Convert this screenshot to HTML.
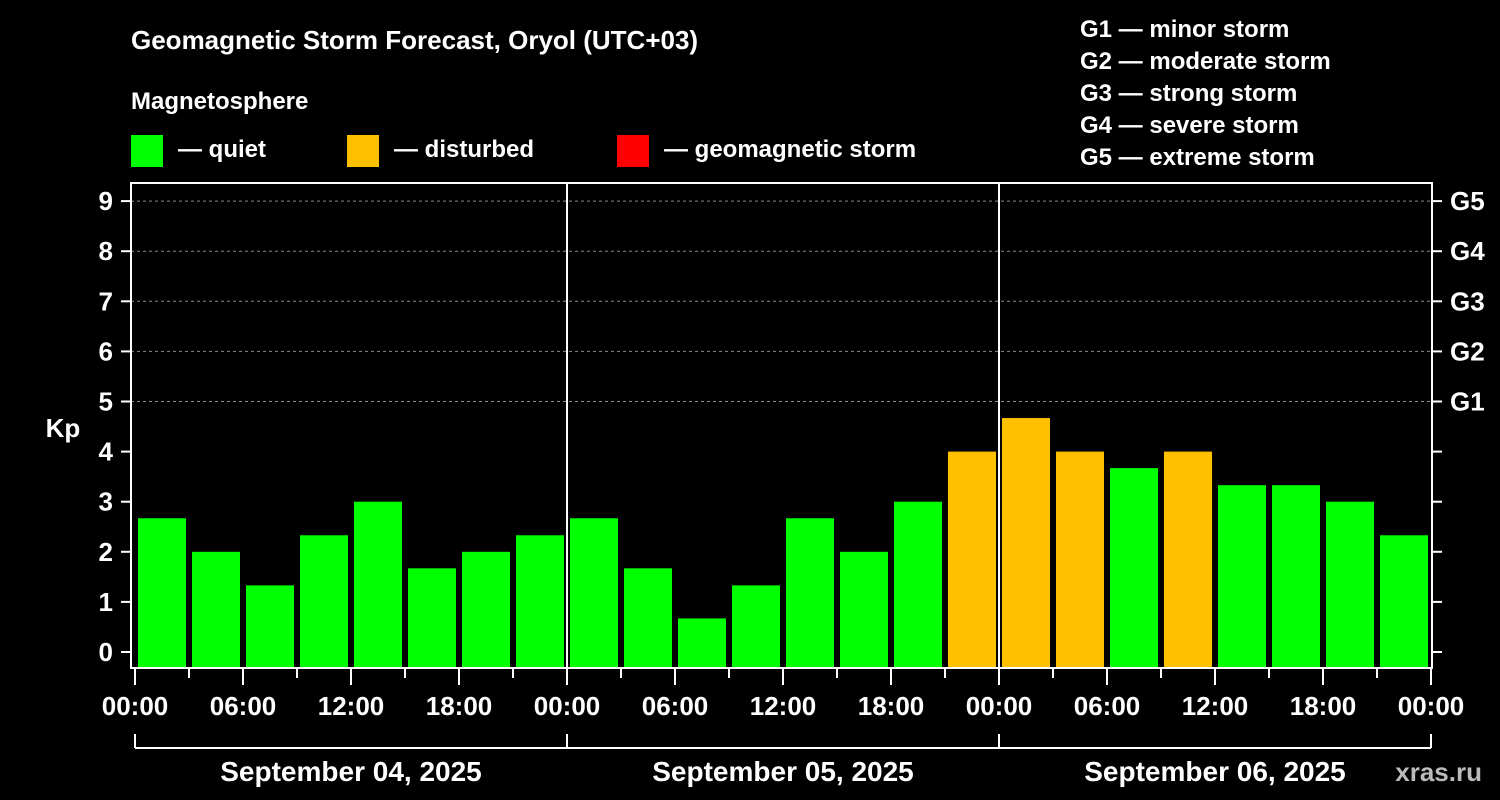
<!DOCTYPE html>
<html><head><meta charset="utf-8"><style>
html,body{margin:0;padding:0;background:#000;}
svg{display:block;font-family:"Liberation Sans",Arial,sans-serif;font-weight:bold;}
</style></head><body>
<svg id="chart" width="1500" height="800" viewBox="0 0 1500 800">
<rect width="1500" height="800" fill="#000"/>
<text x="131" y="49" fill="#fff" font-size="26">Geomagnetic Storm Forecast, Oryol (UTC+03)</text>
<text x="131" y="109" fill="#fff" font-size="24">Magnetosphere</text>
<g>
<rect x="131" y="135" width="32" height="32" fill="#00ff00"/>
<text x="178" y="157" fill="#fff" font-size="24">— quiet</text>
<rect x="347" y="135" width="32" height="32" fill="#ffc000"/>
<text x="394" y="157" fill="#fff" font-size="24">— disturbed</text>
<rect x="617" y="135" width="32" height="32" fill="#ff0000"/>
<text x="664" y="157" fill="#fff" font-size="24">— geomagnetic storm</text>
</g>
<g fill="#fff" font-size="24">
<text x="1080" y="37">G1 — minor storm</text>
<text x="1080" y="69">G2 — moderate storm</text>
<text x="1080" y="101">G3 — strong storm</text>
<text x="1080" y="133">G4 — severe storm</text>
<text x="1080" y="165">G5 — extreme storm</text>
</g>
<text x="63" y="437" fill="#fff" font-size="26" text-anchor="middle">Kp</text>
<g id="grid"></g>
<g id="bars"></g>
<g id="axes"></g>
<text x="1482" y="781" fill="#bbb" font-size="26" text-anchor="end">xras.ru</text>
</svg>
<script>
const values = [2.67,2,1.33,2.33,3,1.67,2,2.33, 2.67,1.67,0.67,1.33,2.67,2,3,4, 4.67,4,3.67,4,3.33,3.33,3,2.33];
const dayLabels = ["September 04, 2025","September 05, 2025","September 06, 2025"];
const hourLabels = ["00:00","06:00","12:00","18:00"];
const kpTicks = [0,1,2,3,4,5,6,7,8,9];
const gLabels = ["G1","G2","G3","G4","G5"];

const NS="http://www.w3.org/2000/svg";
const X0=135, DAYW=432, PL=131, PR=1432, PT=183, PB=668;
const y=v=>652-50.1*v;
const x=h=>X0+h*DAYW/24;
function mk(tag,attrs,parent){const e=document.createElementNS(NS,tag);for(const k in attrs)e.setAttribute(k,attrs[k]);parent.appendChild(e);return e;}
const grid=document.getElementById('grid'),bars=document.getElementById('bars'),axes=document.getElementById('axes');
// gridlines
for(let v=5;v<=9;v++){const l=mk('line',{x1:PL,x2:PR,y1:y(v),y2:y(v),stroke:'#888','stroke-dasharray':'3,3','stroke-width':1},grid);

}
// bars
values.forEach((v,i)=>{const c=v>=5?'#ff0000':(v>=4?'#ffc000':'#00ff00');
const r=mk('rect',{x:x(i*3)+3,y:y(v),width:DAYW/8-6,height:PB-y(v),fill:c},bars);

});
// frame
const f=mk('rect',{x:PL,y:PT,width:PR-PL,height:PB-PT,fill:'none',stroke:'#fff','stroke-width':2},axes);


for(let d=1;d<dayLabels.length;d++){const l=mk('line',{x1:x(d*24),x2:x(d*24),y1:PT,y2:PB,stroke:'#fff','stroke-width':2},axes);

}
// y ticks
kpTicks.forEach(v=>{mk('line',{x1:PL-10,x2:PL,y1:y(v),y2:y(v),stroke:'#fff','stroke-width':2},axes);
mk('line',{x1:PR,x2:PR+10,y1:y(v),y2:y(v),stroke:'#fff','stroke-width':2},axes);
const t=mk('text',{x:113,y:y(v)+9,fill:'#fff','font-size':26,'text-anchor':'end'},axes);t.textContent=v;

});
gLabels.forEach((g,i)=>{const t=mk('text',{x:1450,y:y(5+i)+9,fill:'#fff','font-size':26},axes);t.textContent=g;

});
// x ticks
for(let h=0;h<=72;h+=3){const long=h%6===0;mk('line',{x1:x(h),x2:x(h),y1:PB,y2:PB+(long?17:10),stroke:'#fff','stroke-width':2},axes);}
for(let h=0;h<=72;h+=6){const t=mk('text',{x:x(h),y:715,fill:'#fff','font-size':26,'text-anchor':'middle'},axes);
t.textContent=hourLabels[(h/6)%4];

}
// day bracket
mk('line',{x1:x(0),x2:x(72),y1:748,y2:748,stroke:'#fff','stroke-width':2},axes);
for(let d=0;d<=dayLabels.length;d++)mk('line',{x1:x(d*24),x2:x(d*24),y1:734,y2:748,stroke:'#fff','stroke-width':2},axes);
dayLabels.forEach((s,d)=>{const t=mk('text',{x:x(d*24+12),y:781,fill:'#fff','font-size':28,'text-anchor':'middle'},axes);t.textContent=s;

});
</script>
</body></html>
